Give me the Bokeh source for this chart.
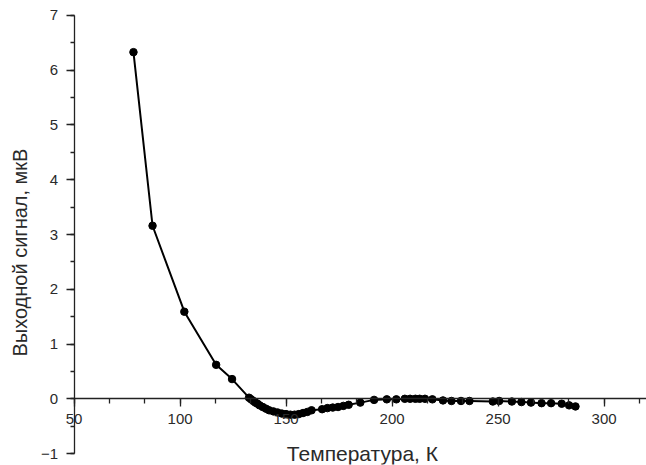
import math
from bokeh.plotting import figure
from bokeh.models import SingleIntervalTicker, Label, Range1d
from bokeh.embed import file_html
from bokeh.resources import INLINE

temperature = [78, 87, 102, 117, 124.5, 132.5, 133.5, 134.5, 135.5, 136.5, 137.5,
               139, 140.5, 142, 144, 146, 148, 150, 152, 154, 156, 158, 160, 162,
               167, 169.5, 172, 174.5, 177, 179.5, 185, 191.5, 197.5, 202, 206,
               208.5, 211, 213, 215.5, 219, 224, 228, 232.5, 236.5, 247.5, 250.5,
               256.5, 261, 265.5, 270.5, 275, 280, 283.5, 286.5]
signal = [6.33, 3.16, 1.59, 0.62, 0.36, 0.02, -0.01, -0.04, -0.07, -0.09, -0.12,
          -0.15, -0.18, -0.21, -0.23, -0.25, -0.27, -0.28, -0.29, -0.29, -0.28, -0.26, -0.24, -0.21,
          -0.19, -0.17, -0.16, -0.15, -0.13, -0.11, -0.07, -0.02, -0.01, -0.01, 0.0,
          0.0, 0.0, 0.0, 0.0, -0.01, -0.03, -0.04, -0.04, -0.04, -0.05, -0.04,
          -0.05, -0.06, -0.07, -0.08, -0.08, -0.09, -0.12, -0.14]

x_title = "Температура, К"
y_title = "Выходной сигнал, мкВ"
x_axis_span = (50, 320)
y_axis_span = (-1, 7)

FONT = "Liberation Sans"
TXT = "#2a2a2a"

p = figure(width=646, height=465, output_backend="svg", toolbar_location=None,
           x_range=Range1d(20, 320), y_range=Range1d(-1.2, 7.2),
           min_border_left=10, min_border_right=0, min_border_top=4, min_border_bottom=1)
p.outline_line_color = None
p.grid.visible = False
p.background_fill_color = "white"
p.border_fill_color = "white"

p.xaxis.fixed_location = 0
p.yaxis.fixed_location = x_axis_span[0]
p.xaxis.bounds = x_axis_span
p.yaxis.bounds = y_axis_span
p.xaxis.ticker = SingleIntervalTicker(interval=50, num_minor_ticks=3)
p.yaxis.ticker = SingleIntervalTicker(interval=1, num_minor_ticks=2)

for ax in (p.xaxis, p.yaxis):
    ax.axis_line_color = "#222222"
    ax.axis_line_width = 1.3
    ax.major_tick_line_color = "#222222"
    ax.minor_tick_line_color = "#222222"
    ax.major_tick_line_width = 1.3
    ax.minor_tick_line_width = 1.3
    ax.major_tick_in = 0
    ax.minor_tick_in = 0
    ax.major_tick_out = 8
    ax.minor_tick_out = 5
    ax.major_label_text_font = FONT
    ax.major_label_text_font_size = "15px"
    ax.major_label_text_color = TXT

p.xaxis.major_label_standoff = 7
p.yaxis.major_label_standoff = 8
p.yaxis.minor_tick_out = 4

p.line(temperature, signal, line_color="black", line_width=2)
p.scatter(temperature, signal, marker="circle", size=7.5, fill_color="black", line_color="black")

p.add_layout(Label(x=186, y=-0.99, text=x_title, text_align="center", text_baseline="middle",
                   text_font=FONT, text_font_size="21px", text_color=TXT))
p.add_layout(Label(x=24.7, y=2.67, text=y_title, angle=math.pi / 2,
                   text_align="center", text_baseline="middle",
                   text_font=FONT, text_font_size="20px", text_color=TXT))

open("out.html", "w").write(file_html(p, INLINE))
